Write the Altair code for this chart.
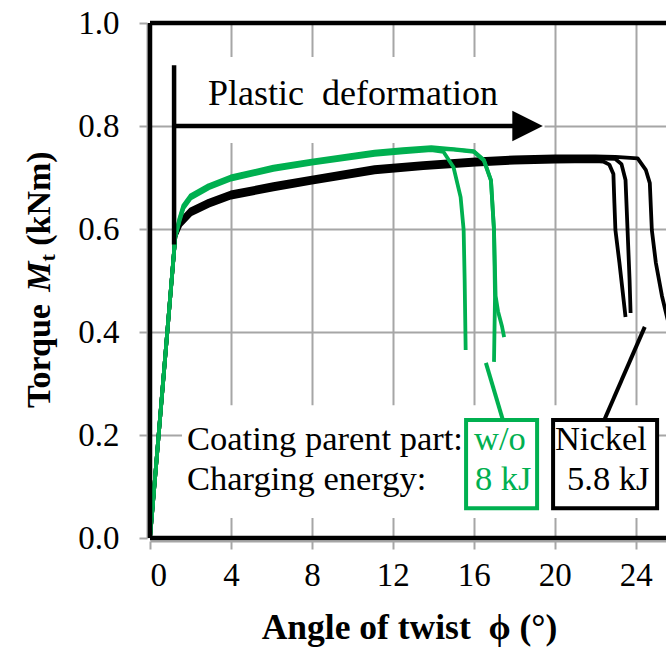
import altair as alt
import pandas as pd

GREEN = "#00b050"
GRAY = "#a6a6a6"
FONT = "Liberation Serif"

# ---- curve data (angle of twist in degrees, torque in kNm) ----
black_a_x = [0, 1.25, 1.5, 2.0, 2.9, 4.0, 6.1, 8.0, 11.1, 13.5, 16.1, 18.0, 20.0, 22.0, 22.4, 22.7, 22.9, 22.95, 23.0, 23.2, 23.5]
black_a_y = [0, 0.585, 0.607, 0.628, 0.645, 0.661, 0.677, 0.690, 0.710, 0.718, 0.725, 0.729, 0.731, 0.732, 0.731, 0.725, 0.707, 0.650, 0.598, 0.534, 0.429]
black_b_x = [0, 1.25, 1.5, 2.0, 2.9, 4.0, 6.1, 8.0, 11.1, 13.5, 16.1, 18.0, 20.0, 22.0, 23.0, 23.3, 23.5, 23.6, 23.7, 23.75]
black_b_y = [0, 0.585, 0.612, 0.633, 0.650, 0.666, 0.682, 0.695, 0.715, 0.723, 0.730, 0.734, 0.736, 0.737, 0.736, 0.726, 0.695, 0.598, 0.501, 0.437]
black_c_x = [0, 1.25, 1.5, 2.0, 2.9, 4.0, 6.1, 8.0, 11.1, 13.5, 16.1, 18.0, 20.0, 22.0, 23.0, 24.1, 24.5, 24.7, 24.8, 25.0, 25.3, 25.55, 26.0]
black_c_y = [0, 0.585, 0.617, 0.638, 0.655, 0.671, 0.687, 0.700, 0.720, 0.728, 0.735, 0.739, 0.741, 0.741, 0.740, 0.737, 0.715, 0.689, 0.598, 0.534, 0.470, 0.429, 0.360]

green_a_x = [0, 1.25, 1.45, 1.65, 2.0, 2.9, 4.0, 6.1, 8.0, 11.1, 12.5, 13.9, 14.5, 15.0, 15.35, 15.5, 15.55, 15.6]
green_a_y = [0, 0.585, 0.614, 0.640, 0.659, 0.679, 0.696, 0.715, 0.727, 0.744, 0.749, 0.753, 0.750, 0.720, 0.662, 0.598, 0.500, 0.365]
green_b_x = [0, 1.25, 1.45, 1.65, 2.0, 2.9, 4.0, 6.1, 8.0, 11.1, 12.5, 13.9, 15.0, 16.0, 16.5, 16.85, 17.0, 17.05, 17.0]
green_b_y = [0, 0.585, 0.620, 0.646, 0.665, 0.685, 0.702, 0.721, 0.733, 0.750, 0.755, 0.759, 0.755, 0.751, 0.734, 0.695, 0.598, 0.468, 0.342]
green_c_x = [0, 1.25, 1.45, 1.65, 2.0, 2.9, 4.0, 6.1, 8.0, 11.1, 12.5, 13.9, 15.0, 16.0, 16.5, 16.85, 17.0, 17.08, 17.2, 17.4, 17.5]
green_c_y = [0, 0.585, 0.617, 0.643, 0.662, 0.682, 0.699, 0.718, 0.730, 0.747, 0.752, 0.756, 0.754, 0.750, 0.733, 0.694, 0.598, 0.470, 0.440, 0.410, 0.390]

# ---- annotation data ----
leader_x = [16.6, 24.45]
leader_y = [0.340, 0.410]
leader_x2 = [17.44, 22.45]
leader_y2 = [0.229, 0.229]
leader_c = [GREEN, "black"]

box_x = [15.62, 19.92]
box_x2 = [19.13, 25.06]
box_y = [0.058, 0.058]
box_y2 = [0.229, 0.229]
box_c = [GREEN, "black"]

bg_x = [1.58, 2.47]
bg_x2 = [25.06, 19.5]
bg_y = [0.039, 0.767]
bg_y2 = [0.258, 0.934]

txt = ["Coating parent part:", "Charging energy:", "w/o", "8 kJ", "Nickel", "5.8 kJ"]
txt_x = [1.83, 1.83, 16.01, 16.06, 20.01, 20.61]
txt_y = [0.171, 0.093, 0.171, 0.093, 0.171, 0.093]
txt_c = ["black", "black", GREEN, GREEN, "black", "black"]

label_txt = ["Plastic\u00a0\u00a0deformation"]
label_x = [2.87]
label_y = [0.841]

arrow_v_x = [1.19]
arrow_v_y = [0.57]
arrow_v_y2 = [0.918]
arrow_h_x = [1.19]
arrow_h_x2 = [18.2]
arrow_h_y = [0.80]
head_x = [18.66]
head_y = [0.80]

frame_x = [0, 0, 0]
frame_x2 = [25.5, 0, 25.5]
frame_y = [0, 0, 1.0]
frame_y2 = [0, 1.0, 1.0]

x_ticks = [0, 4, 8, 12, 16, 20, 24]
y_ticks = [0, 0.2, 0.4, 0.6, 0.8, 1.0]

# ---- build tables ----
rows = []
for name, grp, xs_, ys_ in [
    ("b1", "black", black_a_x, black_a_y),
    ("b2", "black", black_b_x, black_b_y),
    ("b3", "black", black_c_x, black_c_y),
    ("g1", "green", green_a_x, green_a_y),
    ("g2", "green", green_b_x, green_b_y),
    ("g3", "green", green_c_x, green_c_y),
]:
    for i, (xv, yv) in enumerate(zip(xs_, ys_)):
        rows.append({"x": xv, "y": yv, "spec": name, "grp": grp, "idx": i})
curves = pd.DataFrame(rows)

xaxis = alt.Axis(
    values=x_ticks, grid=True, gridColor=GRAY, gridWidth=2,
    domainColor=GRAY, domainWidth=2, offset=3,
    tickColor=GRAY, tickSize=8, tickWidth=2,
    labelFont=FONT, labelFontSize=33, labelColor="black", labelPadding=10,
    title="Angle of twist\u00a0\u00a0\u03d5 (\u00b0)", titleFont=FONT, titleFontSize=35.5,
    titleFontWeight="bold", titleColor="black", titleX=259, titleY=97,
    titleAlign="center", titleBaseline="alphabetic",
)
yaxis = alt.Axis(
    values=y_ticks, format=".1f", grid=True, gridColor=GRAY, gridWidth=2,
    domainColor=GRAY, domainWidth=2, offset=3,
    tickColor=GRAY, tickSize=8, tickWidth=2,
    labelFont=FONT, labelFontSize=33, labelColor="black", labelPadding=20,
    title=None,
)
xs = alt.Scale(domain=[0, 25.5], nice=False, zero=False)
ys = alt.Scale(domain=[0, 1.0], nice=False)

def X(f="x"):
    return alt.X(f"{f}:Q", scale=xs, axis=xaxis)

def Y(f="y"):
    return alt.Y(f"{f}:Q", scale=ys, axis=yaxis)

bg = alt.Chart(pd.DataFrame({"x": bg_x, "x2": bg_x2, "y": bg_y, "y2": bg_y2})).mark_rect(
    color="white"
).encode(x=X(), x2="x2:Q", y=Y(), y2="y2:Q")

lines = alt.Chart(curves).mark_line(strokeWidth=3.8, clip=True, strokeJoin="round").encode(
    x=X(), y=Y(), detail="spec:N", order="idx:Q",
    color=alt.Color("grp:N", scale=alt.Scale(domain=["green", "black"], range=[GREEN, "#000000"]), legend=None),
)

leaders = alt.Chart(pd.DataFrame({"x": leader_x, "y": leader_y, "x2": leader_x2, "y2": leader_y2, "c": leader_c})).mark_rule(
    strokeWidth=4
).encode(x=X(), y=Y(), x2="x2:Q", y2="y2:Q", color=alt.Color("c:N", scale=None))

boxes = alt.Chart(pd.DataFrame({"x": box_x, "x2": box_x2, "y": box_y, "y2": box_y2, "c": box_c})).mark_rect(
    filled=False, strokeWidth=4
).encode(x=X(), x2="x2:Q", y=Y(), y2="y2:Q", stroke=alt.Stroke("c:N", scale=None))

texts = alt.Chart(pd.DataFrame({"x": txt_x, "y": txt_y, "t": txt, "c": txt_c})).mark_text(
    align="left", baseline="alphabetic", font=FONT, fontSize=34.5
).encode(x=X(), y=Y(), text="t:N", color=alt.Color("c:N", scale=None))

label = alt.Chart(pd.DataFrame({"x": label_x, "y": label_y, "t": label_txt})).mark_text(
    align="left", baseline="alphabetic", font=FONT, fontSize=36, color="black"
).encode(x=X(), y=Y(), text="t:N")

arrow_v = alt.Chart(pd.DataFrame({"x": arrow_v_x, "y": arrow_v_y, "y2": arrow_v_y2})).mark_rule(
    strokeWidth=4.5, color="black"
).encode(x=X(), y=Y(), y2="y2:Q")
arrow_h = alt.Chart(pd.DataFrame({"x": arrow_h_x, "x2": arrow_h_x2, "y": arrow_h_y})).mark_rule(
    strokeWidth=4.5, color="black"
).encode(x=X(), x2="x2:Q", y=Y())
head = alt.Chart(pd.DataFrame({"x": head_x, "y": head_y})).mark_point(
    shape="M-1,-1L1,0L-1,1Z", filled=True, size=930, color="black", opacity=1
).encode(x=X(), y=Y())

frame = alt.Chart(pd.DataFrame({"x": frame_x, "x2": frame_x2, "y": frame_y, "y2": frame_y2})).mark_rule(
    strokeWidth=4.5, color="black"
).encode(x=X(), x2="x2:Q", y=Y(), y2="y2:Q")

one = alt.Data(values=[{"a": 1}])
def ytitle(text, px, py, size=34, style="normal"):
    return alt.Chart(one).mark_text(
        text=text, angle=270, align="left", baseline="alphabetic", font=FONT,
        fontSize=size, fontWeight="bold", fontStyle=style, color="black",
    ).encode(x=alt.value(px), y=alt.value(py))

yt = [
    ytitle("Torque", -100, 385),
    ytitle("M", -100, 268.8, style="italic"),
    ytitle("t", -95, 238.6, size=22),
    ytitle("(kNm)", -100, 222.8),
]

chart = alt.layer(bg, lines, leaders, boxes, texts, label, arrow_v, arrow_h, head, frame, *yt).properties(
    width=516, height=515,
    autosize=alt.AutoSizeParams(type="none"),
    padding={"left": 150, "top": 23, "right": 0, "bottom": 110},
    background="white",
).configure_view(stroke=None)

chart.save("out.html", embed_options={"renderer": "svg", "actions": False})
